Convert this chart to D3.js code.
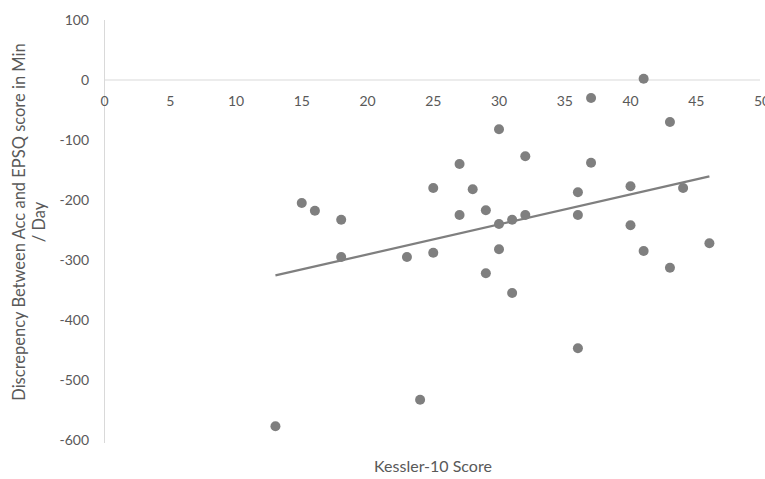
<!DOCTYPE html>
<meta charset="utf-8">
<script src="https://d3js.org/d3.v7.min.js"></script>
<style>
  body { margin: 0; background: #fff; }
  text { font-family: Lato, "Open Sans", sans-serif; fill: #595959; }
</style>
<body>
<div id="my_dataviz"></div>
<script>

// Kessler-10 score of each participant
var kessler = [13, 15, 16, 18, 18, 23, 24, 25, 25, 27, 27, 28, 29, 29, 30, 30, 30,
               31, 31, 32, 32, 36, 36, 36, 37, 37, 40, 40, 41, 41, 43, 43, 44, 46]
// discrepancy between Acc and EPSQ (min/day)
var discrepancy = [-577, -205, -218, -233, -295, -295, -533, -180, -288, -140, -225, -182,
                   -217, -322, -82, -240, -282, -233, -355, -127, -225, -187, -225, -447,
                   -30, -138, -177, -242, 2, -285, -70, -313, -180, -272]

var xTicks = [0, 5, 10, 15, 20, 25, 30, 35, 40, 45, 50]
var yTicks = [100, 0, -100, -200, -300, -400, -500, -600]

var width = 765, height = 479

var svg = d3.select("#my_dataviz")
  .append("svg")
    .attr("width", width)
    .attr("height", height)

var x = d3.scaleLinear().domain([0, 50]).range([104.5, 762])
var y = d3.scaleLinear().domain([100, -600]).range([20, 440])

// vertical axis line
svg.append("line")
  .attr("x1", x(0)).attr("x2", x(0))
  .attr("y1", y(100)).attr("y2", y(-600) + 3)
  .attr("stroke", "#d9d9d9")
  .attr("stroke-width", 1)

// horizontal axis at y = 0
svg.append("line")
  .attr("x1", x(0)).attr("x2", x(50) - 2)
  .attr("y1", y(0)).attr("y2", y(0))
  .attr("stroke", "#d9d9d9")
  .attr("stroke-width", 1)

// y tick labels
svg.selectAll(".ylab")
  .data(yTicks)
  .enter()
  .append("text")
    .attr("x", 89)
    .attr("y", function(d) { return y(d) + 5 })
    .attr("text-anchor", "end")
    .style("font-size", "14px")
    .text(function(d) { return d })

// x tick labels
svg.selectAll(".xlab")
  .data(xTicks)
  .enter()
  .append("text")
    .attr("x", function(d) { return x(d) })
    .attr("y", y(0) + 26)
    .attr("text-anchor", "middle")
    .style("font-size", "14px")
    .text(function(d) { return d })

// linear trendline (least squares)
var pts = kessler.map(function(k, i) { return [k, discrepancy[i]] })
var mx = d3.mean(kessler), my = d3.mean(discrepancy)
var sxy = d3.sum(pts, function(p) { return (p[0] - mx) * (p[1] - my) })
var sxx = d3.sum(pts, function(p) { return (p[0] - mx) * (p[0] - mx) })
var slope = sxy / sxx, icpt = my - slope * mx
var x0 = d3.min(kessler), x1 = d3.max(kessler)

svg.append("line")
  .attr("x1", x(x0)).attr("y1", y(icpt + slope * x0))
  .attr("x2", x(x1)).attr("y2", y(icpt + slope * x1))
  .attr("stroke", "#7f7f7f")
  .attr("stroke-width", 2.25)

// points
svg.selectAll("circle")
  .data(pts)
  .enter()
  .append("circle")
    .attr("cx", function(d) { return x(d[0]) })
    .attr("cy", function(d) { return y(d[1]) })
    .attr("r", 5)
    .attr("fill", "#7f7f7f")

// axis titles
svg.append("text")
  .attr("x", 433)
  .attr("y", 472)
  .attr("text-anchor", "middle")
  .style("font-size", "16px")
  .text("Kessler-10 Score")

var yt = svg.append("text")
  .attr("transform", "translate(25,222) rotate(-90)")
  .attr("text-anchor", "middle")
  .style("font-size", "16.5px")
yt.append("tspan").attr("x", 0).attr("dy", 0).text("Discrepency Between Acc and EPSQ score in Min")
yt.append("tspan").attr("x", 0).attr("dy", 20).text("/ Day")

</script>
</body>
